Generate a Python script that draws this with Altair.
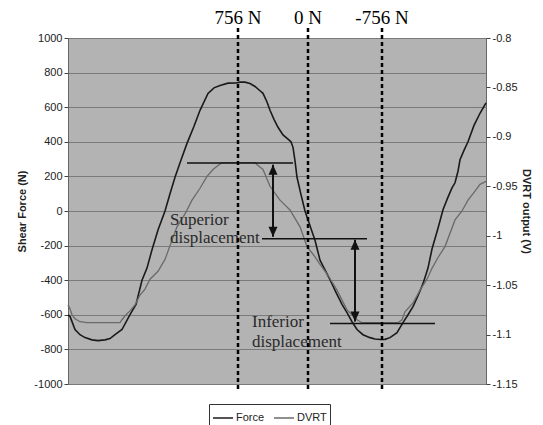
import altair as alt
import pandas as pd

# ---- data (t = time in arbitrary units across the plot) ----
force_t = [0, 2, 7, 12, 17, 24, 30, 37, 42, 47, 54, 62, 68, 74, 79, 84, 90, 97, 102, 107, 113, 119,
           126, 132, 140, 146, 152, 160, 168, 172, 177, 182, 187, 192, 195, 199, 202, 206, 210, 215,
           220, 223, 225, 227, 229, 233, 237, 242, 247, 252, 257, 262, 268, 274, 279, 284, 289, 295,
           302, 307, 312, 317, 322, 329, 335, 340, 345, 350, 355, 360, 364, 370, 375, 380, 384, 387,
           390, 392, 396, 400, 406, 412, 418]
force_v = [-600, -609, -685, -715, -732, -745, -749, -745, -737, -714, -685, -599, -540, -400, -330,
           -224, -110, 0, 100, 195, 295, 391, 490, 582, 680, 712, 726, 739, 740, 745, 745, 737, 720,
           695, 680, 630, 582, 530, 484, 440, 415, 400, 368, 290, 195, 95, 0, -85, -169, -284, -340,
           -397, -470, -540, -587, -640, -685, -715, -732, -740, -743, -742, -732, -703, -645, -600,
           -553, -490, -420, -330, -220, -100, 7, 80, 134, 163, 230, 296, 350, 400, 495, 565, 625]

dvrt_t = [0, 2, 4, 7, 12, 19, 52, 54, 57, 62, 67, 72, 77, 82, 90, 97, 102, 109, 117, 124, 132, 139,
          145, 150, 154, 187, 190, 195, 202, 212, 222, 232, 239, 246, 252, 260, 269, 279, 285, 289,
          294, 330, 334, 337, 345, 352, 359, 364, 370, 377, 387, 394, 400, 407, 412, 418]
dvrt_v = [-1.07, -1.074, -1.08, -1.084, -1.087, -1.088, -1.088, -1.085, -1.081, -1.076, -1.07,
          -1.06, -1.054, -1.044, -1.036, -1.024, -1.01, -0.991, -0.978, -0.964, -0.952, -0.94,
          -0.933, -0.929, -0.926, -0.926, -0.929, -0.933, -0.95, -0.964, -0.974, -0.991, -1.011,
          -1.02, -1.029, -1.04, -1.055, -1.075, -1.081, -1.085, -1.088, -1.088, -1.085, -1.077,
          -1.068, -1.055, -1.044, -1.033, -1.022, -1.011, -0.984, -0.975, -0.964, -0.955, -0.948,
          -0.945]

marker_t = [170, 240, 314]
marker_labels = ["756 N", "0 N", "-756 N"]

hline_t1 = [119, 194, 262]
hline_t2 = [225, 299, 367]
hline_v = [278, -160, -651]

arrow_t = [205, 287]
arrow_top = [267, -166]
arrow_bottom = [-149, -639]

note_t = [102, 102, 184, 184]
note_v = [-79, -183, -668, -784]
note_text = ["Superior", "displacement", "Inferior", "displacement"]

left_ticks = list(range(-1000, 1001, 200))
right_ticks = [-0.8, -0.85, -0.9, -0.95, -1.0, -1.05, -1.1, -1.15]

# ---- tables ----
force_df = pd.DataFrame({"t": force_t, "v": force_v, "series": "Force"})
dvrt_df = pd.DataFrame({"t": dvrt_t, "v": dvrt_v, "series": "DVRT"})
marker_df = pd.DataFrame({"t": marker_t, "label": marker_labels, "top": 1058, "bot": -1043, "ty": 1081})
hline_df = pd.DataFrame({"t1": hline_t1, "t2": hline_t2, "v": hline_v})
arrow_df = pd.DataFrame({"t": arrow_t, "top": arrow_top, "bot": arrow_bottom})
note_df = pd.DataFrame({"t": note_t, "v": note_v, "text": note_text})

XS = alt.Scale(domain=[0, 418], nice=False, zero=False)
YF = alt.Scale(domain=[-1000, 1000], nice=False, zero=False)
YD = alt.Scale(domain=[-1.15, -0.8], nice=False, zero=False)
xenc = alt.X("t:Q", scale=XS, axis=None)

color = alt.Color(
    "series:N",
    scale=alt.Scale(domain=["Force", "DVRT"], range=["#1a1a1a", "#6a6a6a"]),
    legend=alt.Legend(
        orient="none", legendX=141, legendY=366, direction="horizontal", title=None,
        symbolType="stroke", symbolSize=400, symbolStrokeWidth=1.5, labelFont="Liberation Sans",
        labelFontSize=11, labelColor="#222", strokeColor="#333", fillColor="white", padding=3,
        columnPadding=6, labelOffset=2,
    ),
)

force = alt.Chart(force_df).mark_line(strokeWidth=1.6).encode(
    x=xenc,
    y=alt.Y("v:Q", scale=YF, title="Shear Force (N)",
            axis=alt.Axis(orient="left", values=left_ticks, grid=True, gridColor="#7a7a7a",
                          gridWidth=1, tickColor="#444", tickSize=4, domain=False,
                          labelFont="Liberation Sans", labelFontSize=11, labelColor="#222",
                          labelExpr="replace(format(datum.value, 'd'), '\u2212', '-')",
                          titleFont="Liberation Sans", titleFontSize=11, titleFontWeight="bold",
                          titleColor="#222", titlePadding=6)),
    color=color,
)

dvrt = alt.Chart(dvrt_df).mark_line(strokeWidth=1.3).encode(
    x=xenc,
    y=alt.Y("v:Q", scale=YD, title="DVRT output (V)",
            axis=alt.Axis(orient="right", values=right_ticks, grid=False, tickColor="#444",
                          tickSize=4, domain=False, labelFont="Liberation Sans", labelFontSize=11,
                          labelColor="#222",
                          labelExpr="replace(format(datum.value, '.2~f'), '\u2212', '-')",
                          titleFont="Liberation Sans", titleFontSize=11, titleFontWeight="bold",
                          titleColor="#222", titlePadding=3)),
    color=color,
)

markers = alt.Chart(marker_df).mark_rule(strokeDash=[4, 3], strokeWidth=2.5, color="black", clip=False).encode(
    x=xenc, y=alt.Y("top:Q", scale=YF, axis=None), y2="bot:Q")

marker_text = alt.Chart(marker_df).mark_text(
    font="Liberation Serif", fontSize=19, color="black", baseline="alphabetic", align="center", clip=False
).encode(x=xenc, y=alt.Y("ty:Q", scale=YF, axis=None), text="label:N")

hlines = alt.Chart(hline_df).mark_rule(strokeWidth=1.5, color="#111").encode(
    x=alt.X("t1:Q", scale=XS, axis=None), x2="t2:Q", y=alt.Y("v:Q", scale=YF, axis=None))

arrow_shafts = alt.Chart(arrow_df).mark_rule(strokeWidth=2, color="#111").encode(
    x=xenc, y=alt.Y("top:Q", scale=YF, axis=None), y2="bot:Q")

up_heads = alt.Chart(arrow_df).mark_point(
    shape="M0,0 L-0.45,1 L0.45,1 Z", filled=True, size=400, color="#111", opacity=1
).encode(x=xenc, y=alt.Y("top:Q", scale=YF, axis=None))

down_heads = alt.Chart(arrow_df).mark_point(
    shape="M0,0 L-0.45,-1 L0.45,-1 Z", filled=True, size=400, color="#111", opacity=1
).encode(x=xenc, y=alt.Y("bot:Q", scale=YF, axis=None))

notes = alt.Chart(note_df).mark_text(
    font="Liberation Serif", fontSize=17, color="#2a2a2a", align="left", baseline="alphabetic"
).encode(x=xenc, y=alt.Y("v:Q", scale=YF, axis=None), text="text:N")

chart = alt.layer(
    force, dvrt, hlines, arrow_shafts, up_heads, down_heads, notes, markers, marker_text
).resolve_scale(y="independent").properties(
    width=418, height=346,
    background="white",
    autosize=alt.AutoSizeParams(type="none"),
    padding={"left": 60, "top": 30, "right": 49, "bottom": 41},
).configure_view(fill="#b3b3b3", stroke="#666", strokeWidth=1)

chart.save("out.html", embed_options={"renderer": "svg", "actions": False})
